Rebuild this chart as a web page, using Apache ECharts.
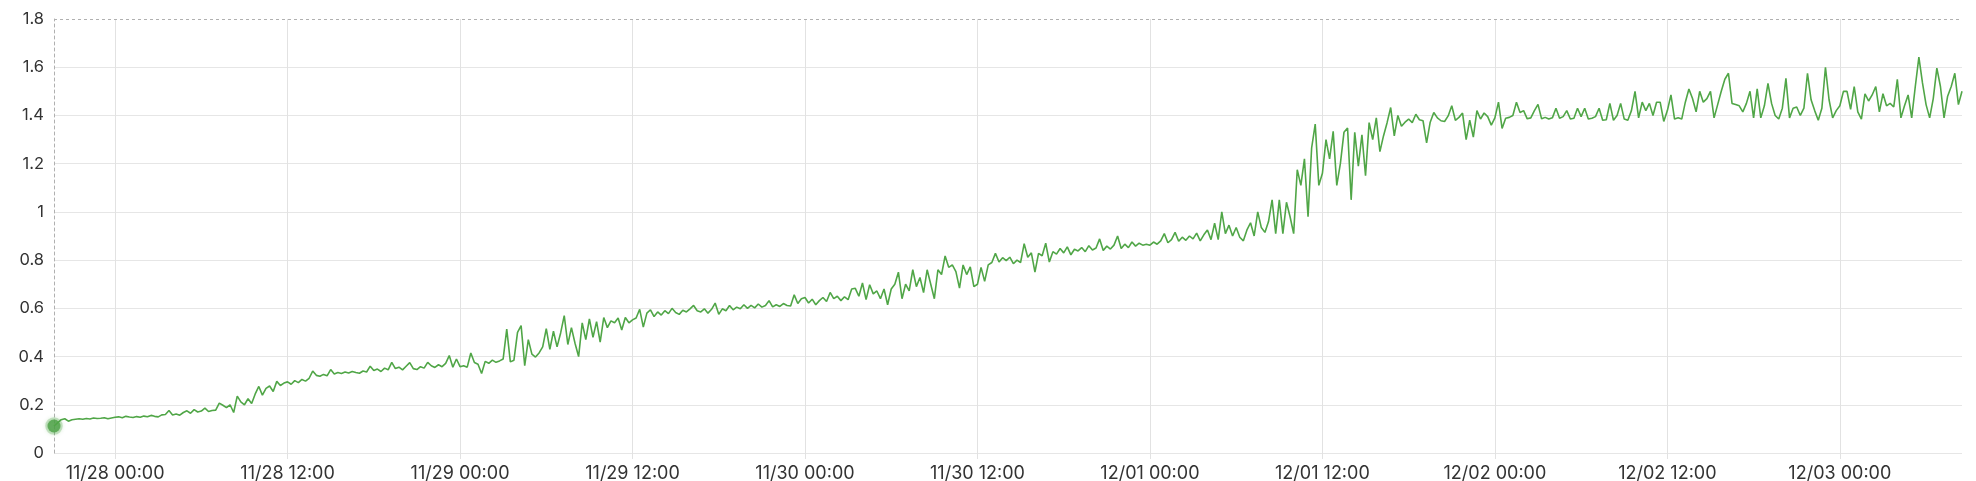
<!DOCTYPE html>
<html>
<head>
<meta charset="utf-8">
<script src="https://cdn.jsdelivr.net/npm/echarts@6/dist/echarts.min.js"></script>
<style>html,body{margin:0;padding:0;background:#fff;}#c{width:1976px;height:481px;}</style>
</head>
<body>
<div id="c"></div>
<script>
// Sampling: every 15 minutes starting 11/27 19:45 (UTC)
const startTime = Date.UTC(2023, 10, 27, 19, 45);
const stepMinutes = 15;

const v_1127_evening = [0.112,0.125,0.138,0.142,0.132,0.138,0.140,0.142,0.140,0.143,0.141,0.145,0.143,0.144,0.146,0.142,0.145];
const v_1128_am = [0.148,0.150,0.146,0.152,0.149,0.147,0.151,0.148,0.153,0.150,0.156,0.152,0.150,0.158,0.160,0.176,
  0.158,0.162,0.157,0.168,0.175,0.165,0.180,0.170,0.174,0.186,0.172,0.176,0.178,0.207,0.198,0.188,
  0.200,0.168,0.236,0.212,0.200,0.225,0.205,0.245,0.276,0.240,0.268,0.278,0.255,0.297,0.280,0.290];
const v_1128_pm = [0.295,0.285,0.300,0.292,0.305,0.298,0.310,0.340,0.322,0.318,0.326,0.320,0.346,0.328,0.334,0.330,
  0.336,0.332,0.338,0.334,0.331,0.340,0.336,0.360,0.342,0.348,0.338,0.352,0.345,0.376,0.350,0.356,
  0.345,0.360,0.375,0.350,0.346,0.358,0.352,0.376,0.362,0.355,0.366,0.358,0.372,0.404,0.356,0.390];
const v_1129_am = [0.358,0.362,0.356,0.415,0.375,0.368,0.330,0.380,0.372,0.385,0.376,0.382,0.390,0.514,0.378,0.385,
  0.500,0.528,0.362,0.470,0.410,0.398,0.415,0.440,0.516,0.430,0.505,0.440,0.498,0.570,0.450,0.520,
  0.455,0.400,0.540,0.470,0.556,0.480,0.545,0.460,0.562,0.520,0.548,0.540,0.560,0.510,0.562,0.540];
const v_1129_pm = [0.552,0.560,0.596,0.522,0.580,0.594,0.566,0.585,0.572,0.590,0.578,0.600,0.583,0.575,0.592,0.585,
  0.598,0.612,0.590,0.585,0.598,0.580,0.596,0.622,0.575,0.598,0.590,0.612,0.594,0.605,0.598,0.615,
  0.600,0.612,0.602,0.618,0.605,0.612,0.632,0.606,0.615,0.608,0.620,0.612,0.610,0.656,0.620,0.640];
const v_1130_am = [0.645,0.622,0.638,0.615,0.632,0.645,0.628,0.666,0.640,0.650,0.632,0.648,0.636,0.680,0.683,0.650,
  0.705,0.636,0.698,0.660,0.672,0.640,0.680,0.615,0.680,0.700,0.750,0.640,0.700,0.672,0.760,0.690,
  0.728,0.665,0.760,0.700,0.640,0.760,0.740,0.817,0.770,0.780,0.752,0.684,0.780,0.740,0.772,0.690];
const v_1130_pm = [0.700,0.770,0.712,0.780,0.790,0.828,0.792,0.810,0.798,0.812,0.785,0.800,0.790,0.868,0.812,0.830,
  0.750,0.828,0.818,0.870,0.792,0.835,0.825,0.848,0.830,0.855,0.822,0.845,0.838,0.852,0.835,0.860,
  0.842,0.850,0.888,0.840,0.858,0.846,0.862,0.900,0.848,0.866,0.852,0.875,0.858,0.870,0.862,0.866];
const v_1201_am = [0.862,0.875,0.866,0.880,0.910,0.872,0.885,0.915,0.878,0.895,0.882,0.900,0.888,0.912,0.880,0.905,
  0.925,0.885,0.953,0.885,1.000,0.910,0.945,0.900,0.935,0.895,0.880,0.925,0.955,0.900,1.000,0.935,
  0.915,0.960,1.050,0.910,1.050,0.910,1.040,0.980,0.910,1.175,1.110,1.220,0.980,1.265,1.364,1.110];
const v_1201_pm = [1.160,1.300,1.220,1.334,1.110,1.200,1.330,1.348,1.050,1.330,1.190,1.320,1.150,1.370,1.300,1.390,
  1.250,1.315,1.370,1.433,1.315,1.400,1.355,1.372,1.385,1.370,1.405,1.382,1.378,1.286,1.372,1.412,
  1.390,1.378,1.375,1.398,1.440,1.380,1.392,1.410,1.300,1.380,1.310,1.420,1.385,1.410,1.395,1.360];
const v_1202_am = [1.390,1.455,1.346,1.388,1.392,1.400,1.455,1.412,1.420,1.386,1.390,1.420,1.446,1.386,1.392,1.385,
  1.390,1.430,1.388,1.395,1.420,1.385,1.388,1.430,1.395,1.430,1.385,1.388,1.395,1.430,1.380,1.382,
  1.450,1.380,1.400,1.450,1.385,1.380,1.420,1.500,1.390,1.455,1.420,1.450,1.400,1.455,1.455,1.375];
const v_1202_pm = [1.420,1.485,1.385,1.390,1.385,1.455,1.510,1.470,1.415,1.500,1.455,1.470,1.500,1.390,1.445,1.500,
  1.550,1.575,1.450,1.445,1.440,1.415,1.450,1.500,1.390,1.510,1.390,1.440,1.533,1.450,1.400,1.385,
  1.430,1.554,1.390,1.430,1.435,1.400,1.430,1.575,1.465,1.420,1.380,1.430,1.600,1.465,1.390,1.420];
const v_1203_am = [1.440,1.500,1.500,1.425,1.520,1.415,1.385,1.490,1.460,1.485,1.520,1.415,1.490,1.440,1.450,1.435,
  1.550,1.390,1.440,1.485,1.390,1.520,1.642,1.535,1.445,1.390,1.470,1.596,1.520,1.390,1.480,1.520,
  1.575,1.445,1.500];

// x tick positions (every 12 hours) and y tick range
const xTickTimes = [
  Date.UTC(2023,10,28,0), Date.UTC(2023,10,28,12), Date.UTC(2023,10,29,0), Date.UTC(2023,10,29,12),
  Date.UTC(2023,10,30,0), Date.UTC(2023,10,30,12), Date.UTC(2023,11,1,0), Date.UTC(2023,11,1,12),
  Date.UTC(2023,11,2,0), Date.UTC(2023,11,2,12), Date.UTC(2023,11,3,0)
];
const yTicks = {min: 0, max: 1.8, interval: 0.2};

const values = [].concat(v_1127_evening, v_1128_am, v_1128_pm, v_1129_am, v_1129_pm,
  v_1130_am, v_1130_pm, v_1201_am, v_1201_pm, v_1202_am, v_1202_pm, v_1203_am);
const seriesData = values.map((v, i) => [startTime + i * stepMinutes * 60000, v]);
const endTime = seriesData[seriesData.length - 1][0];

function pad(n){ return (n < 10 ? '0' : '') + n; }
function fmt(val){
  const d = new Date(val);
  return pad(d.getUTCMonth() + 1) + '/' + pad(d.getUTCDate()) + ' ' + pad(d.getUTCHours()) + ':' + pad(d.getUTCMinutes());
}

const green = '#50a647';
const chart = echarts.init(document.getElementById('c'), null, {renderer: 'canvas'});
chart.setOption({
  animation: false,
  backgroundColor: '#fff',
  grid: {left: 54, right: 14, top: 19, bottom: 28, containLabel: false, outerBoundsMode: 'none'},
  xAxis: {
    type: 'value',
    min: startTime,
    max: endTime,
    axisLine: {show: false},
    axisTick: {show: true, length: 6, customValues: xTickTimes, lineStyle: {color: '#e2e2e2'}},
    axisLabel: {
      customValues: xTickTimes,
      formatter: fmt,
      color: '#333',
      fontFamily: 'Inter',
      fontSize: 18,
      margin: 12
    },
    splitLine: {show: true, lineStyle: {color: '#e2e2e2', width: 1}}
  },
  yAxis: {
    type: 'value',
    min: yTicks.min,
    max: yTicks.max,
    interval: yTicks.interval,
    axisLine: {show: true, lineStyle: {color: '#b0b0b0', type: [3, 3], width: 1}},
    axisTick: {show: false},
    axisLabel: {color: '#333', fontFamily: 'Inter', fontSize: 16.5, margin: 10},
    splitLine: {show: true, showMaxLine: false, lineStyle: {color: '#e6e6e6', width: 1}}
  },
  series: [
    {
      type: 'line',
      data: seriesData,
      showSymbol: false,
      symbol: 'none',
      lineStyle: {color: green, width: 1.6},
      markLine: {
        silent: true,
        symbol: 'none',
        label: {show: false},
        lineStyle: {color: '#b0b0b0', type: [3, 3], width: 1},
        data: [{yAxis: yTicks.max}]
      }
    },
    {
      type: 'scatter',
      data: [seriesData[0]],
      symbol: 'circle',
      symbolSize: 13,
      itemStyle: {color: '#4a9f43', borderColor: 'rgba(82,168,74,0.35)', borderWidth: 4.5,
        shadowBlur: 4, shadowColor: 'rgba(82,168,74,0.4)'}
    }
  ]
});
</script>
</body>
</html>
